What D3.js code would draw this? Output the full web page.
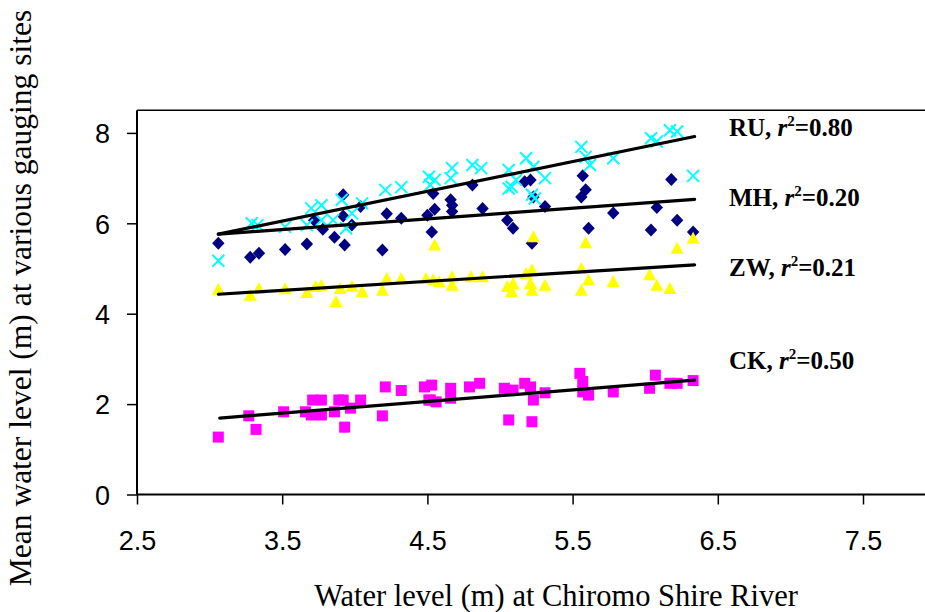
<!DOCTYPE html>
<html>
<head>
<meta charset="utf-8">
<script src="https://cdn.jsdelivr.net/npm/d3@7"></script>
<style>
  html, body { margin: 0; padding: 0; background: #fff; }
  svg { display: block; }
</style>
</head>
<body>
<svg id="chart" width="925" height="612"></svg>
<script>
// ---- data (x = water level at Chiromo, y = mean water level at site) ----
const xTicks = [2.5, 3.5, 4.5, 5.5, 6.5, 7.5];
const yTicks = [0, 2, 4, 6, 8];

const ruData = [
  [3.06,5.17],[3.29,6.00],[3.33,5.96],[3.52,5.92],[3.67,5.96],[3.70,6.33],[3.77,6.40],[3.77,6.07],
  [3.91,6.52],[3.85,6.07],[3.98,6.22],[3.94,5.89],[4.05,6.44],[4.21,6.74],[4.32,6.80],[4.51,7.03],
  [4.55,6.96],[4.52,6.85],[4.67,7.22],[4.66,7.00],[4.81,7.29],[4.87,7.22],[5.06,7.18],[5.06,6.77],
  [5.11,6.96],[5.18,7.44],[5.23,7.25],[5.31,7.00],[5.08,6.81],[5.22,6.63],[5.24,6.55],[5.56,7.69],
  [5.59,7.47],[5.62,7.29],[5.78,7.44],[6.04,7.88],[6.08,7.81],[6.17,8.06],[6.22,8.03],[6.33,7.05]
];
const mhData = [
  [3.06,5.56],[3.28,5.25],[3.34,5.34],[3.52,5.42],[3.67,5.54],[3.72,6.07],[3.78,5.87],[3.86,5.69],
  [3.92,6.63],[3.92,6.16],[3.93,5.52],[3.98,5.96],[4.04,6.37],[4.19,5.41],[4.22,6.21],[4.32,6.11],
  [4.50,6.18],[4.53,5.81],[4.54,6.66],[4.55,6.31],[4.66,6.52],[4.67,6.26],[4.67,6.40],[4.81,6.85],
  [4.88,6.33],[5.05,6.07],[5.09,5.89],[5.17,6.92],[5.21,6.96],[5.23,6.58],[5.31,6.37],[5.22,5.56],
  [5.57,7.05],[5.59,6.74],[5.56,6.58],[5.61,5.89],[5.78,6.23],[6.08,6.35],[6.18,6.97],[6.22,6.07],
  [6.04,5.85],[6.33,5.81]
];
const zwData = [
  [3.06,4.54],[3.28,4.41],[3.34,4.56],[3.52,4.55],[3.67,4.47],[3.73,4.60],[3.77,4.63],[3.87,4.27],
  [3.90,4.56],[3.98,4.61],[4.05,4.49],[4.19,4.52],[4.22,4.78],[4.32,4.78],[4.49,4.78],[4.54,4.75],
  [4.58,4.71],[4.55,5.52],[4.67,4.82],[4.67,4.63],[4.80,4.82],[4.88,4.82],[5.05,4.60],[5.08,4.49],
  [5.09,4.67],[5.18,4.89],[5.22,4.97],[5.21,4.67],[5.22,4.52],[5.23,5.70],[5.31,4.63],[5.56,5.00],
  [5.59,5.57],[5.61,4.75],[5.56,4.52],[5.78,4.71],[6.03,4.86],[6.08,4.63],[6.17,4.56],[6.22,5.45],
  [6.33,5.67]
];
const ckData = [
  [3.06,1.27],[3.27,1.74],[3.32,1.44],[3.51,1.83],[3.66,1.83],[3.71,2.09],[3.77,2.09],[3.70,1.76],
  [3.77,1.76],[3.86,1.83],[3.89,2.09],[3.92,2.09],[3.93,1.49],[3.97,1.91],[4.04,2.09],[4.19,1.74],
  [4.21,2.38],[4.32,2.30],[4.48,2.38],[4.51,2.09],[4.53,2.42],[4.52,2.09],[4.56,2.05],[4.66,2.35],
  [4.66,2.13],[4.79,2.38],[4.86,2.46],[5.03,2.35],[5.09,2.31],[5.06,1.65],[5.17,2.46],[5.21,2.38],
  [5.23,2.09],[5.22,1.61],[5.31,2.25],[5.55,2.68],[5.57,2.50],[5.57,2.27],[5.61,2.20],[5.78,2.27],
  [6.03,2.35],[6.07,2.64],[6.17,2.46],[6.22,2.46],[6.33,2.52]
];

// trend lines: [x0, y0, x1, y1]
const trendLines = [
  [3.06, 5.76, 6.34, 7.92],
  [3.06, 5.76, 6.34, 6.53],
  [3.06, 4.43, 6.34, 5.08],
  [3.07, 1.69, 6.34, 2.53]
];
const labelSites = ["RU", "MH", "ZW", "CK"];
const labelR2 = ["0.80", "0.20", "0.21", "0.50"];
const labelY = [7.93, 6.38, 4.83, 2.78];   // data-space baseline anchors for labels

// ---- layout ----
const svg = d3.select("#chart");
const x = d3.scaleLinear().domain([2.5, 8]).range([137, 137 + 5.5 * 145.2]);
const y = d3.scaleLinear().domain([0, 8.5]).range([494.5, 494.5 - 8.5 * 45.2]);

// top frame line
svg.append("line")
  .attr("x1", x(2.5)).attr("x2", 925)
  .attr("y1", y(8.5)).attr("y2", y(8.5))
  .attr("stroke", "#000").attr("stroke-width", 1.5);

// axes
const gx = svg.append("g").attr("transform", `translate(0,${y(0)})`)
  .call(d3.axisBottom(x).tickValues(xTicks).tickSize(10).tickSizeOuter(0).tickFormat(d3.format(".1f")));
gx.select(".domain").attr("d", `M${x(2.5)},0H925`).attr("stroke-width", 2);
gx.selectAll(".tick line").attr("stroke-width", 1.5);
gx.selectAll(".tick text")
  .attr("dy", null).attr("y", 55)
  .attr("font-family", "Liberation Sans, Arial, sans-serif")
  .attr("font-size", 27).attr("fill", "#000");

const gy = svg.append("g").attr("transform", `translate(${x(2.5)},0)`)
  .call(d3.axisLeft(y).tickValues(yTicks).tickSize(10).tickSizeOuter(0).tickPadding(17));
gy.select(".domain").attr("d", `M0,${y(0)}V${y(8.5)}`).attr("stroke-width", 2);
gy.selectAll(".tick line").attr("stroke-width", 1.5);
gy.selectAll(".tick text")
  .attr("font-family", "Liberation Sans, Arial, sans-serif")
  .attr("font-size", 27).attr("fill", "#000").attr("dy", "0.36em");

// ---- markers ----
const pts = svg.append("g");
// MH diamonds
pts.selectAll(".mh").data(mhData).enter().append("path")
  .attr("transform", d => `translate(${x(d[0])},${y(d[1])})`)
  .attr("d", "M0,-6.5L6.2,0L0,6.5L-6.2,0Z")
  .attr("fill", "#000080");
// RU crosses
pts.selectAll(".ru").data(ruData).enter().append("path")
  .attr("transform", d => `translate(${x(d[0])},${y(d[1])})`)
  .attr("d", "M-6,-6L6,6M-6,6L6,-6")
  .attr("stroke", "#00FFFF").attr("stroke-width", 2).attr("fill", "none");
// ZW triangles
pts.selectAll(".zw").data(zwData).enter().append("path")
  .attr("transform", d => `translate(${x(d[0])},${y(d[1])})`)
  .attr("d", "M0,-6.5L6.5,5.5L-6.5,5.5Z")
  .attr("fill", "#FFFF00");
// CK squares
pts.selectAll(".ck").data(ckData).enter().append("rect")
  .attr("x", d => x(d[0]) - 5.5).attr("y", d => y(d[1]) - 5.5)
  .attr("width", 11).attr("height", 11)
  .attr("fill", "#FF00FF");

// ---- trend lines ----
svg.append("g").selectAll("line").data(trendLines).enter().append("line")
  .attr("x1", d => x(d[0])).attr("y1", d => y(d[1]))
  .attr("x2", d => x(d[2])).attr("y2", d => y(d[3]))
  .attr("stroke", "#000").attr("stroke-width", 3.2).attr("stroke-linecap", "round");

// ---- labels ----
const lab = svg.append("g")
  .attr("font-family", "Liberation Serif, Times New Roman, serif")
  .attr("font-weight", "bold").attr("font-size", 25).attr("fill", "#000");
labelSites.forEach((s, i) => {
  const t = lab.append("text").attr("x", 729).attr("y", y(labelY[i]));
  t.append("tspan").text(s + ", ");
  t.append("tspan").attr("font-style", "italic").text("r");
  t.append("tspan").attr("font-size", 15).attr("dy", -10).text("2");
  t.append("tspan").attr("dy", 10).text("=" + labelR2[i]);
});

// ---- axis titles ----
svg.append("text")
  .attr("x", 556).attr("y", 606)
  .attr("text-anchor", "middle")
  .attr("font-family", "Liberation Serif, Times New Roman, serif")
  .attr("font-size", 30.5).attr("fill", "#000")
  .text("Water level (m) at Chiromo Shire River");

svg.append("text")
  .attr("transform", "translate(31,298) rotate(-90)")
  .attr("text-anchor", "middle")
  .attr("font-family", "Liberation Serif, Times New Roman, serif")
  .attr("font-size", 31.5).attr("fill", "#000")
  .text("Mean water level (m) at various gauging sites");
</script>
</body>
</html>
